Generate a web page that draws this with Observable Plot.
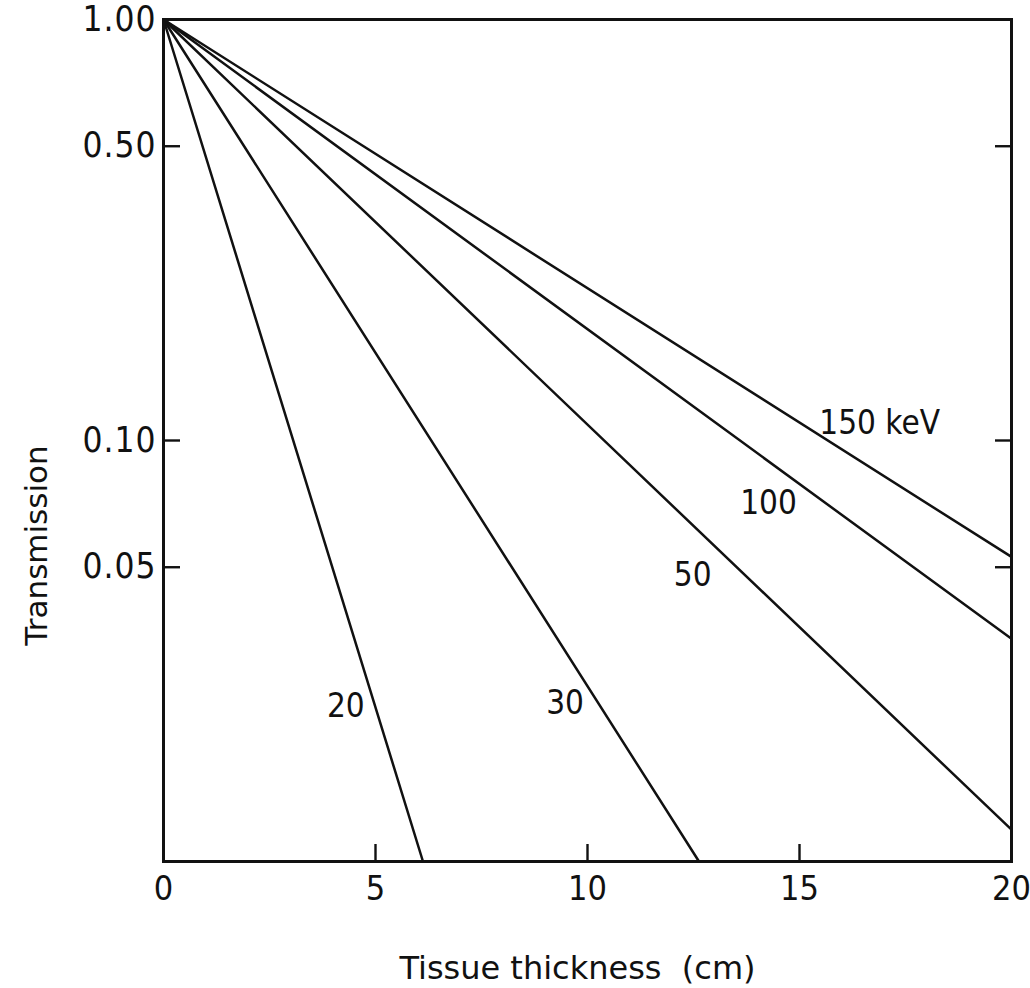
<!DOCTYPE html>
<html><head><meta charset="utf-8">
<script src="https://cdn.jsdelivr.net/npm/d3@7"></script>
<script src="https://cdn.jsdelivr.net/npm/@observablehq/plot@0.6"></script>
<style>
html,body{margin:0;padding:0;background:#fff;}
#chart svg{display:block;}
.ylab text{letter-spacing:1px;}
</style></head><body><div id="chart"></div>
<script>
// Photon energies (keV) of the curves
const energies = ["20", "30", "50", "100", "150"];
// Where each straight (exponential) line ends: thickness (cm) and transmission
const endThickness = [6.12, 12.63, 20, 20, 20];
const endTransmission = [0.01, 0.01, 0.0119, 0.0338, 0.0529];
// Curve labels and their anchor points in data units
const labelText = ["20", "30", "50", "100", "150 keV"];
const labelThickness = [4.30, 9.47, 12.48, 14.27, 16.89];
const labelTransmission = [0.0233, 0.0237, 0.0479, 0.0710, 0.110];
// Axis ticks
const xTicks = [0, 5, 10, 15, 20];
const yTicks = [1.00, 0.50, 0.10, 0.05];
const yTickLabels = ["1.00", "0.50", "0.10", "0.05"];

const rows = energies.flatMap((e, i) => [
  {energy: e, thickness: 0, T: 1},
  {energy: e, thickness: endThickness[i], T: endTransmission[i]}
]);
const labels = labelText.map((t, i) => ({text: t, thickness: labelThickness[i], T: labelTransmission[i]}));

const narrow = '"Liberation Sans Narrow", "DejaVu Sans Condensed", "Roboto Condensed", Roboto, sans-serif';
const regular = '"DejaVu Sans", sans-serif';

const chart = Plot.plot({
  width: 1030, height: 988,
  marginLeft: 163, marginRight: 19, marginTop: 19, marginBottom: 127,
  style: {fontFamily: narrow, color: "#111", background: "#fff"},
  x: {domain: [0, 20]},
  y: {type: "log", domain: [0.01, 1]},
  marks: [
    Plot.axisX({ticks: xTicks, tickSize: -17, tickPadding: 31, strokeWidth: 2.4, fontSize: 34,
      tickFormat: d => String(d), label: null}),
    Plot.axisY({anchor: "left", ticks: yTicks, tickSize: -17, tickPadding: 24, strokeWidth: 2.4, fontSize: 35,
      tickFormat: d => yTickLabels[yTicks.indexOf(d)], label: null, className: "ylab"}),
    Plot.axisY({anchor: "right", ticks: yTicks.slice(1), tickSize: -17, tickPadding: 0, strokeWidth: 2.4,
      tickFormat: () => "", label: null}),
    Plot.line(rows, {x: "thickness", y: "T", z: "energy", stroke: "#111", strokeWidth: 2.5}),
    Plot.frame({stroke: "#111", strokeWidth: 3}),
    Plot.text(labels, {x: "thickness", y: "T", text: "text", fontSize: 33, fill: "#111"}),
    Plot.text(["Tissue thickness\u00a0\u00a0(cm)"], {frameAnchor: "bottom", text: d => d, lineAnchor: "bottom",
      textAnchor: "middle", dx: -10, dy: 117, fontSize: 32, fontFamily: regular, fill: "#111"}),
    Plot.text(["Transmission"], {frameAnchor: "left", text: d => d, rotate: -90, lineAnchor: "bottom",
      textAnchor: "middle", dx: -117, dy: 105, fontSize: 31, fontFamily: regular, fill: "#111"})
  ]
});
document.getElementById("chart").append(chart);
</script>
</body></html>
